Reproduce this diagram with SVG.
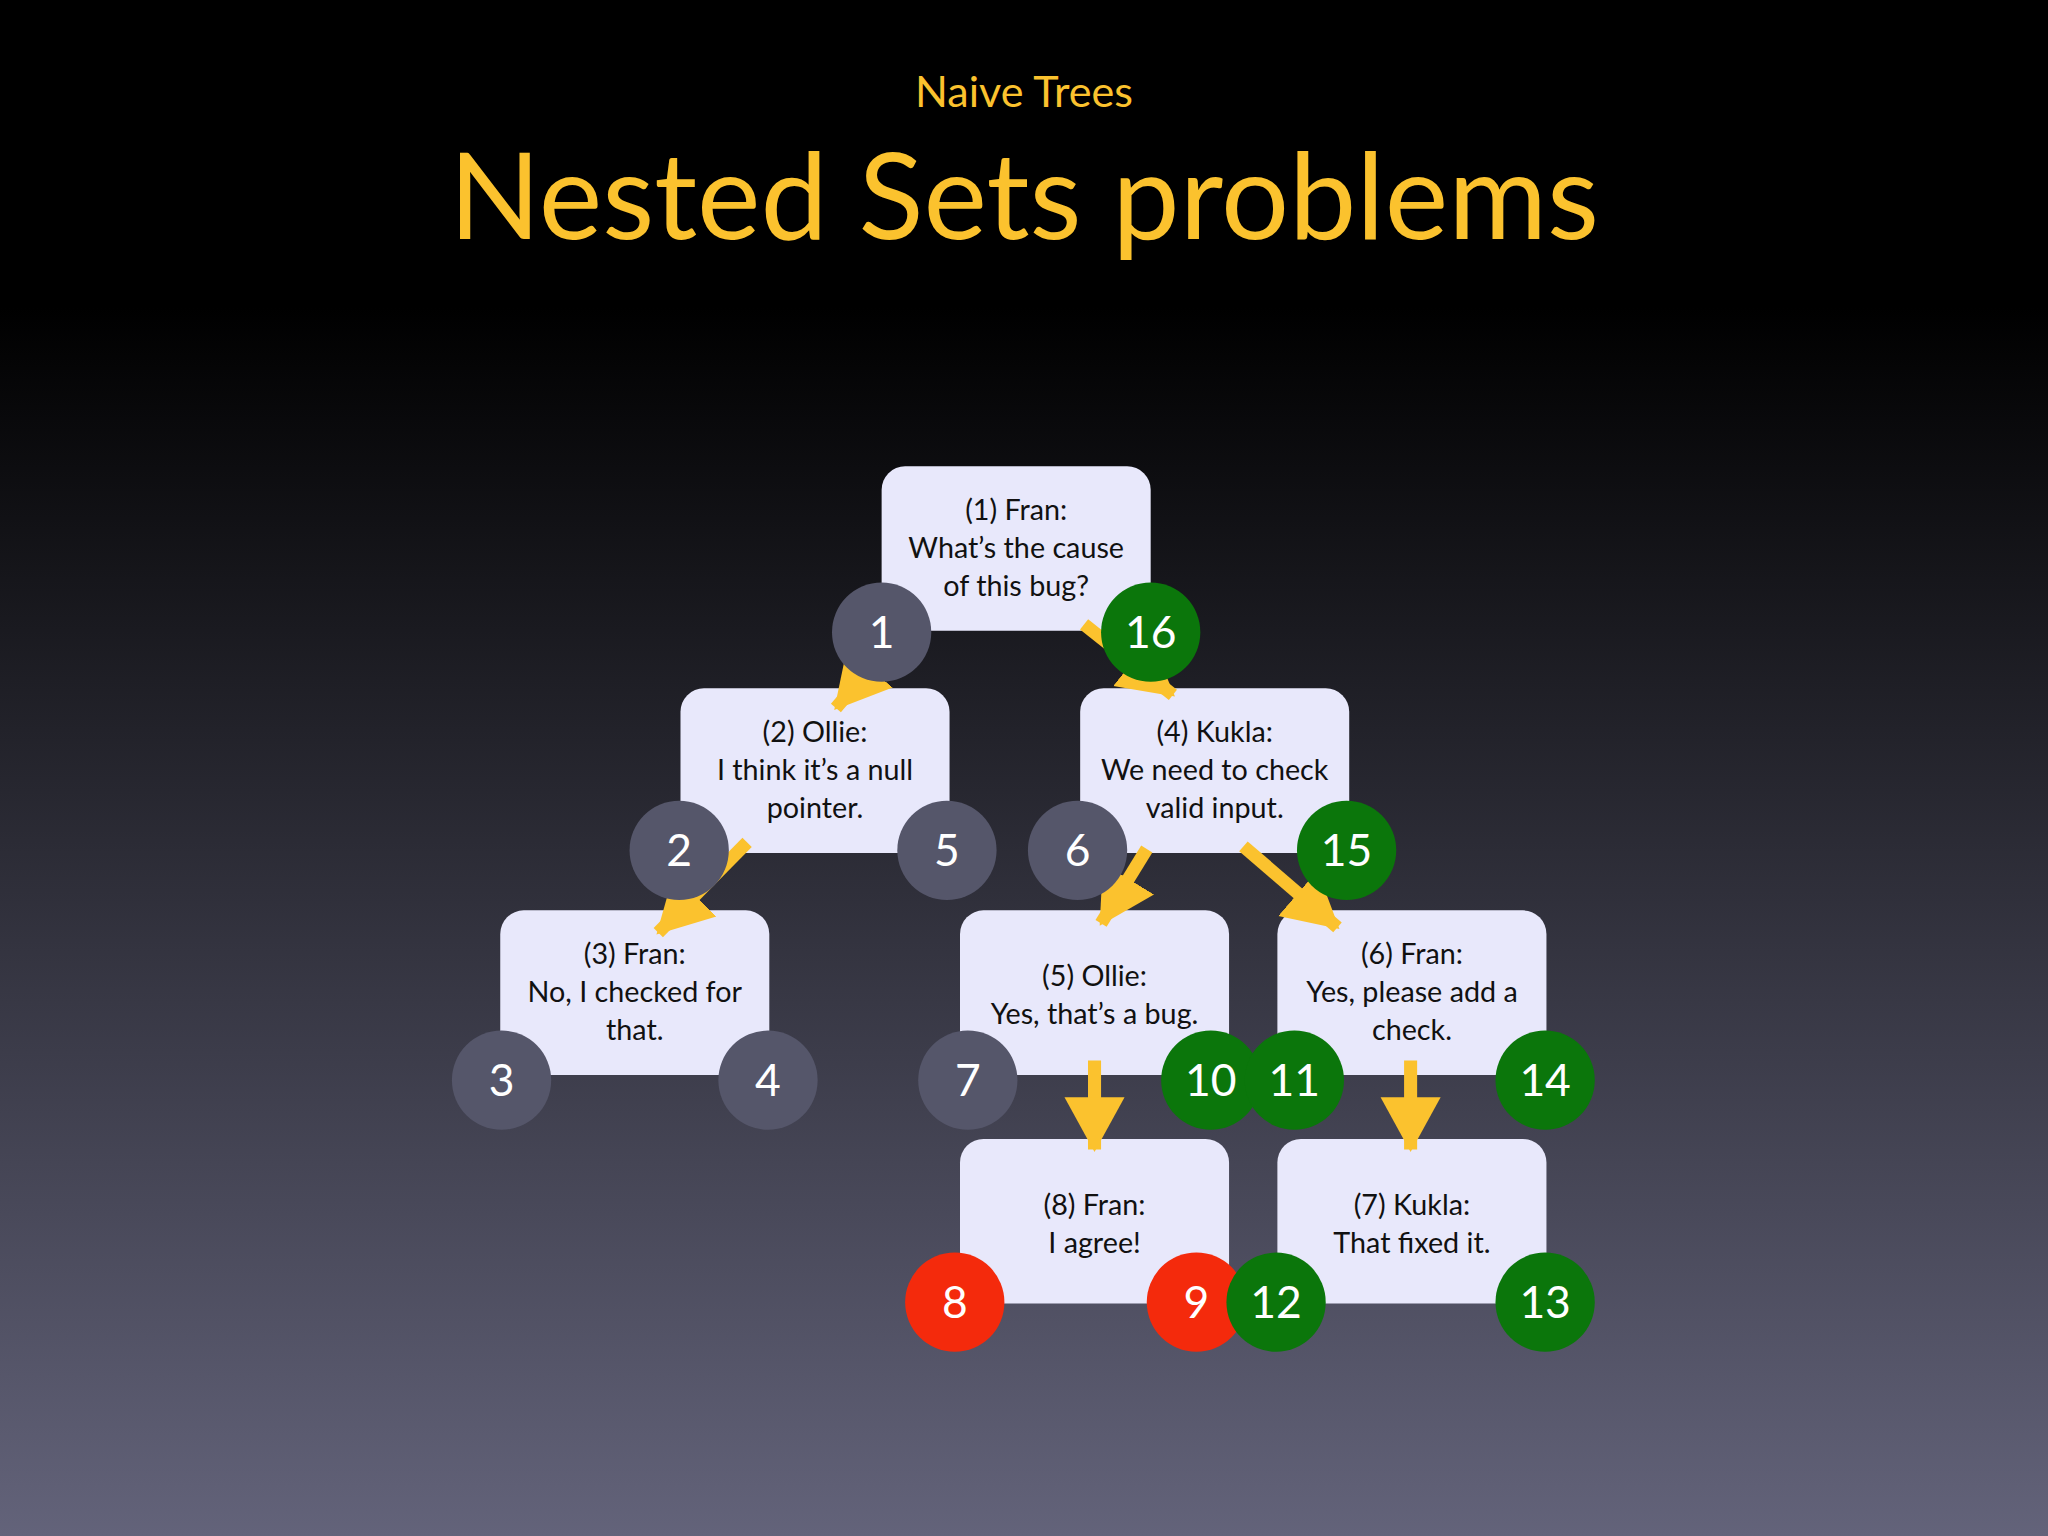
<svg xmlns="http://www.w3.org/2000/svg" width="2048" height="1536" viewBox="0 0 2048 1536">
<defs>
<linearGradient id="bg" x1="0" y1="0" x2="0" y2="1">
<stop offset="0" stop-color="#000"/><stop offset="0.2" stop-color="#000"/><stop offset="1" stop-color="#63637a"/>
</linearGradient>
<marker id="ah" markerUnits="userSpaceOnUse" markerWidth="50" markerHeight="50" refX="40" refY="25" orient="auto" viewBox="0 0 50 50">
<path d="M0,2 L42,25 L0,48 z" fill="#fbc22e"/>
</marker>
<style>
.box{fill:#e8e8fb}
.bt{font-family:Lato,"Open Sans",sans-serif;font-size:22px;fill:#111;text-anchor:middle}
.g{fill:#55566a}.gr{fill:#0b760b}.r{fill:#f42a0c}
.n{font-family:Lato,"Open Sans",sans-serif;font-size:34px;fill:#fff;text-anchor:middle}
.a{stroke:#fbc22e;stroke-width:10;marker-end:url(#ah);fill:none}
</style>
</defs>
<rect width="2048" height="1536" fill="url(#bg)"/>
<g transform="scale(1.30612)">
<text x="784" y="82" font-family="Lato,'Open Sans',sans-serif" font-size="33" fill="#fbc22e" text-anchor="middle">Naive Trees</text>
<text x="784" y="183" font-family="Lato,'Open Sans',sans-serif" font-size="92" fill="#fbc22e" text-anchor="middle">Nested Sets problems</text>
<g id="n1"><rect class="box" x="675" y="357" width="206" height="126" rx="18"/><text class="bt" x="778" y="398">(1) Fran:<tspan x="778" dy="29">What’s the cause</tspan><tspan x="778" dy="29">of this bug?</tspan></text></g>
<g id="n2"><rect class="box" x="521" y="527" width="206" height="126" rx="18"/><text class="bt" x="624" y="568">(2) Ollie:<tspan x="624" dy="29">I think it’s a null</tspan><tspan x="624" dy="29">pointer.</tspan></text></g>
<g id="n4"><rect class="box" x="827" y="527" width="206" height="126" rx="18"/><text class="bt" x="930" y="568">(4) Kukla:<tspan x="930" dy="29">We need to check</tspan><tspan x="930" dy="29">valid input.</tspan></text></g>
<g id="n3"><rect class="box" x="383" y="697" width="206" height="126" rx="18"/><text class="bt" x="486" y="738">(3) Fran:<tspan x="486" dy="29">No, I checked for</tspan><tspan x="486" dy="29">that.</tspan></text></g>
<g id="n5"><rect class="box" x="735" y="697" width="206" height="126" rx="18"/><text class="bt" x="838" y="755">(5) Ollie:<tspan x="838" dy="29">Yes, that’s a bug.</tspan></text></g>
<g id="n6"><rect class="box" x="978" y="697" width="206" height="126" rx="18"/><text class="bt" x="1081" y="738">(6) Fran:<tspan x="1081" dy="29">Yes, please add a</tspan><tspan x="1081" dy="29">check.</tspan></text></g>
<g id="n8"><rect class="box" x="735" y="872" width="206" height="126" rx="18"/><text class="bt" x="838" y="930">(8) Fran:<tspan x="838" dy="29">I agree!</tspan></text></g>
<g id="n7"><rect class="box" x="978" y="872" width="206" height="126" rx="18"/><text class="bt" x="1081" y="930">(7) Kukla:<tspan x="1081" dy="29">That fixed it.</tspan></text></g>
<g id="connectors">
<line class="a" x1="680" y1="495" x2="640" y2="542"/>
<line class="a" x1="830" y1="478" x2="898" y2="532"/>
<line class="a" x1="572" y1="645" x2="504" y2="714"/>
<line class="a" x1="878" y1="650" x2="843" y2="707"/>
<line class="a" x1="952" y1="648" x2="1024" y2="710"/>
<line class="a" x1="838" y1="812" x2="838" y2="880"/>
<line class="a" x1="1080" y1="812" x2="1080" y2="880"/>
</g>
<g id="counters">
<circle class="g" cx="675" cy="484" r="38"/><text class="n" x="675" y="496">1</text>
<circle class="gr" cx="881" cy="484" r="38"/><text class="n" x="881" y="496">16</text>
<circle class="g" cx="520" cy="651" r="38"/><text class="n" x="520" y="663">2</text>
<circle class="g" cx="725" cy="651" r="38"/><text class="n" x="725" y="663">5</text>
<circle class="g" cx="825" cy="651" r="38"/><text class="n" x="825" y="663">6</text>
<circle class="gr" cx="1031" cy="651" r="38"/><text class="n" x="1031" y="663">15</text>
<circle class="g" cx="384" cy="827" r="38"/><text class="n" x="384" y="839">3</text>
<circle class="g" cx="588" cy="827" r="38"/><text class="n" x="588" y="839">4</text>
<circle class="g" cx="741" cy="827" r="38"/><text class="n" x="741" y="839">7</text>
<circle class="gr" cx="927" cy="827" r="38"/><text class="n" x="927" y="839">10</text>
<circle class="gr" cx="991" cy="827" r="38"/><text class="n" x="991" y="839">11</text>
<circle class="gr" cx="1183" cy="827" r="38"/><text class="n" x="1183" y="839">14</text>
<circle class="r" cx="731" cy="997" r="38"/><text class="n" x="731" y="1009">8</text>
<circle class="r" cx="916" cy="997" r="38"/><text class="n" x="916" y="1009">9</text>
<circle class="gr" cx="977" cy="997" r="38"/><text class="n" x="977" y="1009">12</text>
<circle class="gr" cx="1183" cy="997" r="38"/><text class="n" x="1183" y="1009">13</text>
</g>
</g>
</svg>
